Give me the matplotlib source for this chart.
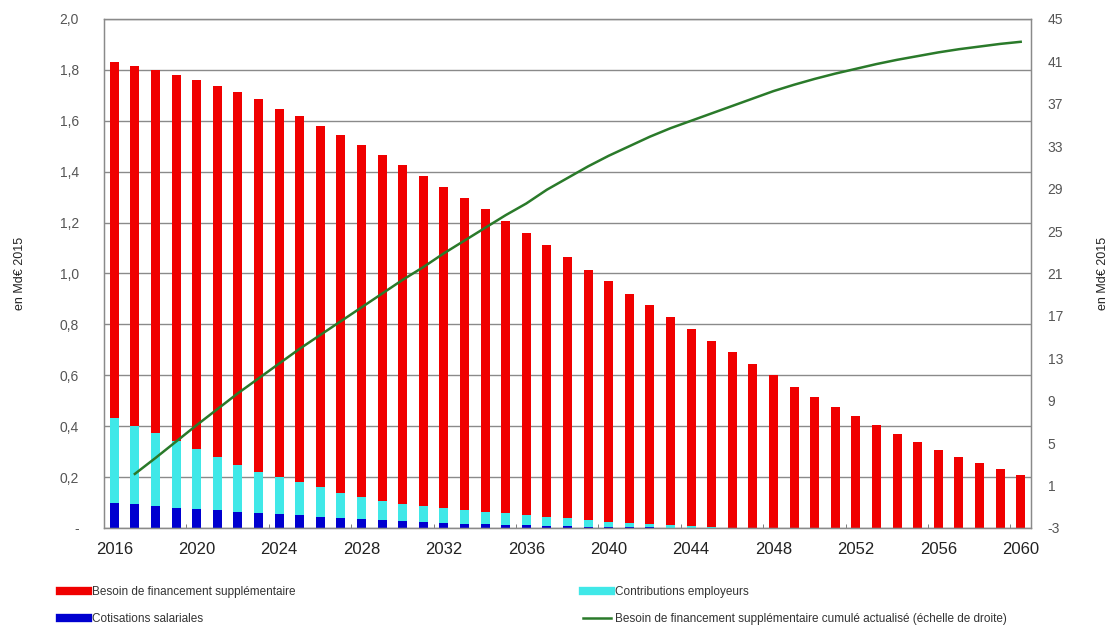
import matplotlib
matplotlib.use("Agg")
import matplotlib.pyplot as plt
from matplotlib.lines import Line2D
import numpy as np

plt.rcParams['font.family'] = ['Liberation Sans', 'DejaVu Sans']

years = list(range(2016, 2061))

cotisations_salariales = [0.098, 0.094, 0.087, 0.080, 0.075, 0.070, 0.063, 0.060, 0.055, 0.050,
                          0.045, 0.040, 0.035, 0.030, 0.027, 0.023, 0.020, 0.017, 0.015, 0.012,
                          0.010, 0.008, 0.006, 0.005, 0.004, 0.003, 0.002, 0.001, 0.0, 0.0,
                          0.0, 0.0, 0.0, 0.0, 0.0, 0.0, 0.0, 0.0, 0.0, 0.0,
                          0.0, 0.0, 0.0, 0.0, 0.0]

contributions_employeurs = [0.334, 0.306, 0.286, 0.260, 0.235, 0.209, 0.185, 0.160, 0.145, 0.130,
                            0.115, 0.098, 0.085, 0.075, 0.067, 0.062, 0.057, 0.053, 0.048, 0.046,
                            0.040, 0.035, 0.032, 0.025, 0.021, 0.017, 0.013, 0.009, 0.006, 0.003,
                            0.0, 0.0, 0.0, 0.0, 0.0, 0.0, 0.0, 0.0, 0.0, 0.0,
                            0.0, 0.0, 0.0, 0.0, 0.0]

besoin_financement = [1.398, 1.415, 1.427, 1.440, 1.450, 1.456, 1.465, 1.465, 1.448, 1.437,
                      1.420, 1.407, 1.385, 1.360, 1.331, 1.300, 1.263, 1.227, 1.192, 1.147,
                      1.110, 1.067, 1.027, 0.985, 0.945, 0.900, 0.860, 0.820, 0.774, 0.732,
                      0.690, 0.645, 0.600, 0.555, 0.515, 0.475, 0.440, 0.405, 0.370, 0.338,
                      0.306, 0.279, 0.255, 0.232, 0.208]

cumul_years = list(range(2017, 2061))
besoin_cumule = [2.1, 3.6, 5.15, 6.7, 8.2, 9.7, 11.1, 12.5, 13.9, 15.2,
                 16.5, 17.8, 19.1, 20.4, 21.6, 22.9, 24.1, 25.3, 26.5, 27.6,
                 28.9, 30.0, 31.1, 32.1, 33.0, 33.9, 34.7, 35.4, 36.1, 36.8,
                 37.5, 38.2, 38.8, 39.35, 39.85, 40.3, 40.75, 41.15, 41.5, 41.85,
                 42.15, 42.4, 42.65, 42.85]

left_ticks = [0.0, 0.2, 0.4, 0.6, 0.8, 1.0, 1.2, 1.4, 1.6, 1.8, 2.0]
left_labels = ['-', '0,2', '0,4', '0,6', '0,8', '1,0', '1,2', '1,4', '1,6', '1,8', '2,0']
right_ticks = list(range(-3, 46, 4))
x_ticks = list(range(2016, 2061, 4))

RED = '#f00000'
CYAN = '#40e8e8'
BLUE = '#0000d0'
GREEN = '#2a7a2a'
GRID = '#8a8a8a'

fig = plt.figure(figsize=(11.13, 6.29), dpi=100)
ax = fig.add_axes([0.0934, 0.1606, 0.8329, 0.8092])

x = np.array(years)
b1 = np.array(cotisations_salariales)
b2 = np.array(contributions_employeurs)
b3 = np.array(besoin_financement)
w = 0.44
ax.bar(x, b1, width=w, color=BLUE, zorder=2)
ax.bar(x, b2, width=w, bottom=b1, color=CYAN, zorder=2)
ax.bar(x, b3, width=w, bottom=b1 + b2, color=RED, zorder=2)

ax.set_xlim(2015.5, 2060.5)
ax.set_ylim(0, 2.0)
ax.set_yticks(left_ticks)
ax.set_yticklabels(left_labels)
ax.set_xticks(x_ticks)
ax.set_xticks([v + 3.5 for v in range(2016, 2057, 4)], minor=True)
ax.tick_params(axis='x', which='major', length=0, pad=10, labelsize=12, colors='#222222')
ax.tick_params(axis='x', which='minor', length=3, direction='in', color='#666666')
ax.tick_params(axis='y', length=0, pad=18, labelsize=10, colors='#555555')
ax.yaxis.grid(True, color=GRID, linewidth=1.0, zorder=0)
ax.set_axisbelow(True)
for s in ax.spines.values():
    s.set_color('#8a8a8a')
    s.set_linewidth(1.0)
ax.set_ylabel('en Md€ 2015', fontsize=9, color='#222222', labelpad=24)

ax2 = ax.twinx()
ax2.plot(cumul_years, besoin_cumule, color=GREEN, linewidth=1.8, zorder=3)
ax2.set_ylim(-3, 45)
ax2.set_yticks(right_ticks)
ax2.set_yticklabels([str(t) for t in right_ticks])
ax2.tick_params(axis='y', length=0, pad=12, labelsize=10, colors='#555555')
for s in ax2.spines.values():
    s.set_color('#8a8a8a')
ax2.set_ylabel('en Md€ 2015', fontsize=9, color='#222222', labelpad=24)

h_red = Line2D([], [], color=RED, linewidth=6)
h_blue = Line2D([], [], color=BLUE, linewidth=6)
h_cyan = Line2D([], [], color=CYAN, linewidth=6)
h_green = Line2D([], [], color=GREEN, linewidth=1.8)

leg_kw = dict(frameon=False, fontsize=8.5, handlelength=2.4, handletextpad=0.3,
              labelspacing=1.3, borderaxespad=0, borderpad=0, labelcolor='#333333')
fig.legend([h_red, h_blue], ['Besoin de financement supplémentaire', 'Cotisations salariales'],
           loc='upper left', bbox_to_anchor=(60 / 1113, 1 - 586 / 629), **leg_kw)
fig.legend([h_cyan, h_green], ['Contributions employeurs',
                               'Besoin de financement supplémentaire cumulé actualisé (échelle de droite)'],
           loc='upper left', bbox_to_anchor=(583 / 1113, 1 - 586 / 629), **leg_kw)

fig.savefig('out.png', dpi=100)
